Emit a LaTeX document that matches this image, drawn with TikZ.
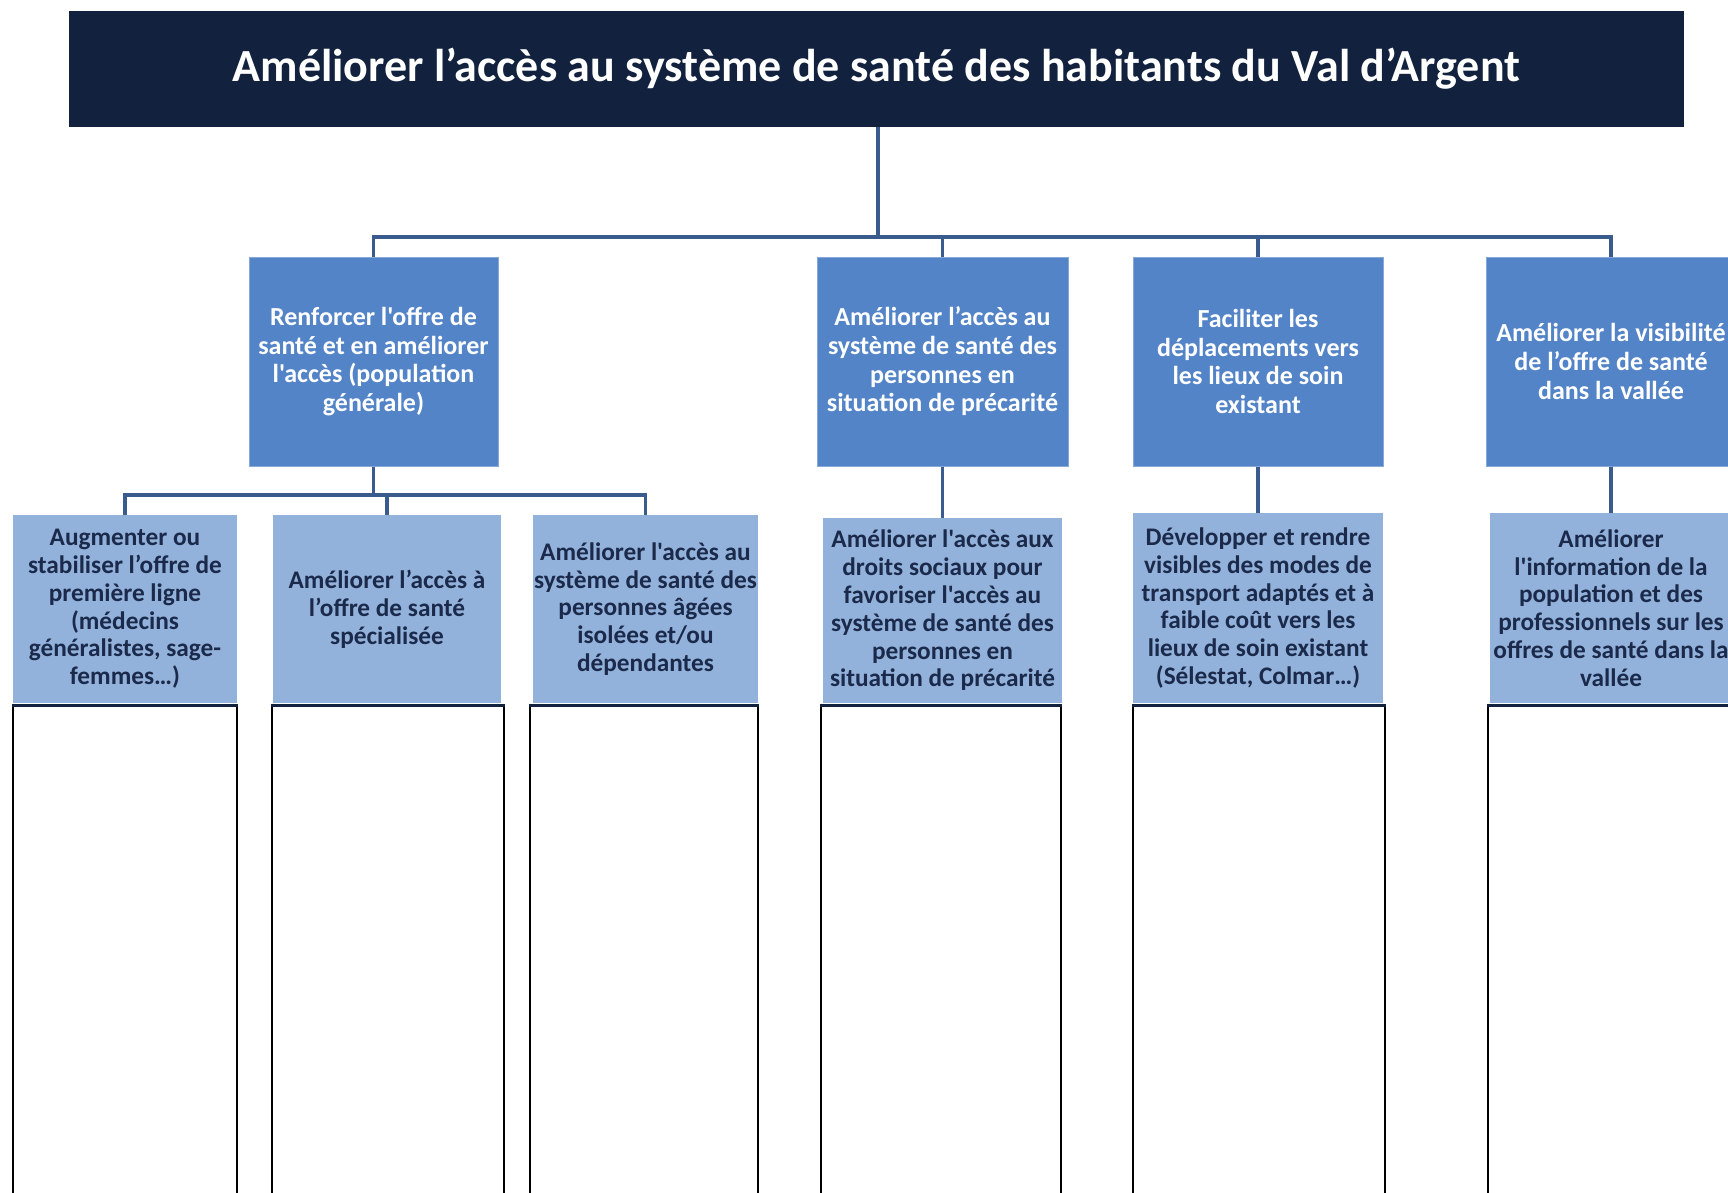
\documentclass[tikz,border=0pt]{standalone}
\usepackage{fontspec}
\newfontfamily\carl{Carlito}
\definecolor{navy}{HTML}{12223E}
\definecolor{midblue}{HTML}{5484C8}
\definecolor{lightblue}{HTML}{93B2DB}
\definecolor{linkc}{HTML}{3A5B8E}
\definecolor{darktext}{HTML}{1B2A4A}
\tikzset{
  lvlone/.style={rectangle, fill=midblue, draw=midblue!70!white, line width=1pt, inner sep=0pt, minimum height=209pt, align=center, text=white, font=\carl\bfseries\fontsize{26}{28.7}\selectfont},
  lvltwo/.style={rectangle, fill=lightblue, inner sep=0pt, minimum height=188pt, align=center, text=darktext, font=\carl\bfseries\fontsize{25.3}{27.8}\selectfont},
  blank/.style={rectangle, fill=white, draw=black, line width=1.5pt, inner sep=0pt, minimum height=500pt},
  link/.style={draw=linkc, line width=3.2pt},
}
\begin{document}
\begin{tikzpicture}[x=1pt,y=-1pt]
\useasboundingbox (0,0) rectangle (1728,1193);
\clip (0,0) rectangle (1728,1193);
\fill[white] (0,0) rectangle (1728,1193);

\node[rectangle, fill=navy, inner sep=0pt, minimum width=1615pt, minimum height=116pt, text=white, font=\carl\bfseries\fontsize{46}{52}\selectfont] (title) at (876.5,69) {Améliorer l’accès au système de santé des habitants du Val d’Argent};

% level 1
\node[lvlone, minimum width=249pt] (A) at (373.5,361.5) {Renforcer l'offre de\\santé et en améliorer\\l'accès (population\\générale)};
\node[lvlone, minimum width=251pt] (B) at (942.5,361.5) {Améliorer l’accès au\\système de santé des\\personnes en\\situation de précarité};
\node[lvlone, minimum width=250pt] (C) at (1258,361.5) {Faciliter les\\déplacements vers\\les lieux de soin\\existant};
\node[lvlone, minimum width=250pt] (D) at (1611,361.5) {Améliorer la visibilité\\de l’offre de santé\\dans la vallée};

% level 2
\node[lvltwo, minimum width=224pt] (a1) at (125,609) {Augmenter ou\\stabiliser l’offre de\\première ligne\\(médecins\\généralistes, sage-\\femmes…)};
\node[lvltwo, minimum width=228pt] (a2) at (387,609) {Améliorer l’accès à\\l’offre de santé\\spécialisée};
\node[lvltwo, minimum width=225pt] (a3) at (645.5,609) {Améliorer l'accès au\\système de santé des\\personnes âgées\\isolées et/ou\\dépendantes};
\node[lvltwo, minimum width=239pt, minimum height=185pt] (b1) at (942.5,610.5) {Améliorer l'accès aux\\droits sociaux pour\\favoriser l'accès au\\système de santé des\\personnes en\\situation de précarité};
\node[lvltwo, minimum width=250pt, minimum height=190pt] (c1) at (1258,608) {Développer et rendre\\visibles des modes de\\transport adaptés et à\\faible coût vers les\\lieux de soin existant\\(Sélestat, Colmar…)};
\node[lvltwo, minimum width=242pt, minimum height=190pt] (d1) at (1611,608) {Améliorer\\l'information de la\\population et des\\professionnels sur les\\offres de santé dans la\\vallée};

% blank columns
\node[blank, minimum width=224pt, anchor=north] (w1) at (125,705) {};
\node[blank, minimum width=232pt, anchor=north] (w2) at (388,705) {};
\node[blank, minimum width=228pt, anchor=north] (w3) at (644,705) {};
\node[blank, minimum width=240pt, anchor=north] (w4) at (941,705) {};
\node[blank, minimum width=252pt, anchor=north] (w5) at (1259,705) {};
\node[blank, minimum width=244pt, anchor=north] (w6) at (1610,705) {};
\foreach \w in {w1,w2,w3,w4,w5,w6}{
  \draw[navy, line width=3pt] (\w.north west) -- (\w.north east);
}

% connectors
\coordinate (bus) at (878,237);
\coordinate (bustwo) at (375,495);
\draw[link] (title.south -| bus) -- (bus);
\draw[link] (A.north) -- (A.north |- bus) -- (D.north |- bus) -- (D.north);
\draw[link] (B.north) -- (B.north |- bus);
\draw[link] (C.north) -- (C.north |- bus);
\draw[link] (A.south) -- (A.south |- bustwo);
\draw[link] (a1.north) -- (a1.north |- bustwo) -- (a3.north |- bustwo) -- (a3.north);
\draw[link] (a2.north) -- (a2.north |- bustwo);
\draw[link] (B.south) -- (b1.north);
\draw[link] (C.south) -- (c1.north);
\draw[link] (D.south) -- (d1.north);
\end{tikzpicture}
\end{document}
